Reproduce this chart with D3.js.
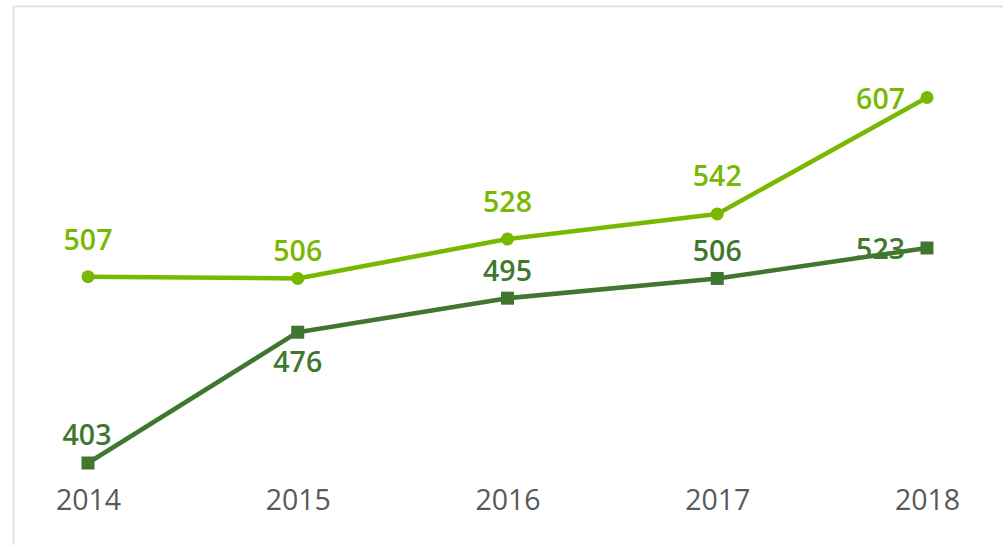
<!DOCTYPE html>
<html>
<head>
<meta charset="utf-8">
<script src="https://cdn.jsdelivr.net/npm/d3@7"></script>
<style>
  html, body { margin: 0; padding: 0; background: #fff; }
  svg { display: block; }
</style>
</head>
<body>
<div id="chart"></div>
<script>
const years = ["2014", "2015", "2016", "2017", "2018"];
const upperSeries = [507, 506, 528, 542, 607];
const lowerSeries = [403, 476, 495, 506, 523];

// label placement per point: [anchor, dx, dy] relative to the marker
const upperLabelPos = [["middle", 0, -27], ["middle", 0, -17], ["middle", 0, -27], ["middle", 0, -28], ["end", -22, 11]];
const lowerLabelPos = [["middle", -1, -18], ["middle", 0, 40], ["middle", 0, -17], ["middle", 0, -17], ["end", -22, 11]];

const width = 1003;
const height = 545;
const lightGreen = "#78b800";
const darkGreen = "#3f772f";

const svg = d3.select("#chart")
    .append("svg")
    .attr("width", width)
    .attr("height", height)
    .attr("viewBox", [0, 0, width, height]);

// frame (only top and left edges are visible)
svg.append("path")
    .attr("d", "M13.5,545 L13.5,6.5 L1003,6.5")
    .attr("fill", "none")
    .attr("stroke", "#dcdcdc")
    .attr("stroke-width", 1.5);

const x = d3.scalePoint(years, [88, 927]);
const y = d3.scaleLinear([403, 607], [463, 97.5]);

// x axis labels only
const gx = svg.append("g")
    .attr("transform", "translate(0,510)")
    .call(d3.axisBottom(x).tickSize(0).tickPadding(0))
    .call(g => g.select(".domain").remove());
gx.selectAll("text")
    .attr("dy", 0)
    .attr("font-family", "'Open Sans', 'Noto Sans', sans-serif")
    .attr("font-size", 28.5)
    .attr("fill", "#595959");

const line = d3.line()
    .x((d, i) => x(years[i]))
    .y(d => y(d));

function drawSeries(values, color, shape, labelPos) {
    const g = svg.append("g");
    g.append("path")
        .attr("d", line(values))
        .attr("fill", "none")
        .attr("stroke", color)
        .attr("stroke-width", 4.5)
        .attr("stroke-linejoin", "round");

    if (shape === "circle") {
        g.selectAll("circle")
            .data(values)
            .join("circle")
            .attr("cx", (d, i) => x(years[i]))
            .attr("cy", d => y(d))
            .attr("r", 6.5)
            .attr("fill", color);
    } else {
        g.selectAll("rect")
            .data(values)
            .join("rect")
            .attr("x", (d, i) => x(years[i]) - 6.5)
            .attr("y", d => y(d) - 6.5)
            .attr("width", 13)
            .attr("height", 13)
            .attr("fill", color);
    }

    g.selectAll("text")
        .data(values)
        .join("text")
        .attr("x", (d, i) => x(years[i]) + labelPos[i][1])
        .attr("y", (d, i) => y(d) + labelPos[i][2])
        .attr("text-anchor", (d, i) => labelPos[i][0])
        .attr("font-family", "'Open Sans', 'Noto Sans', sans-serif")
        .attr("font-size", 28.5)
        .attr("font-weight", 600)
        .attr("fill", color)
        .text(d => d);
}

drawSeries(upperSeries, lightGreen, "circle", upperLabelPos);
drawSeries(lowerSeries, darkGreen, "square", lowerLabelPos);
</script>
</body>
</html>
